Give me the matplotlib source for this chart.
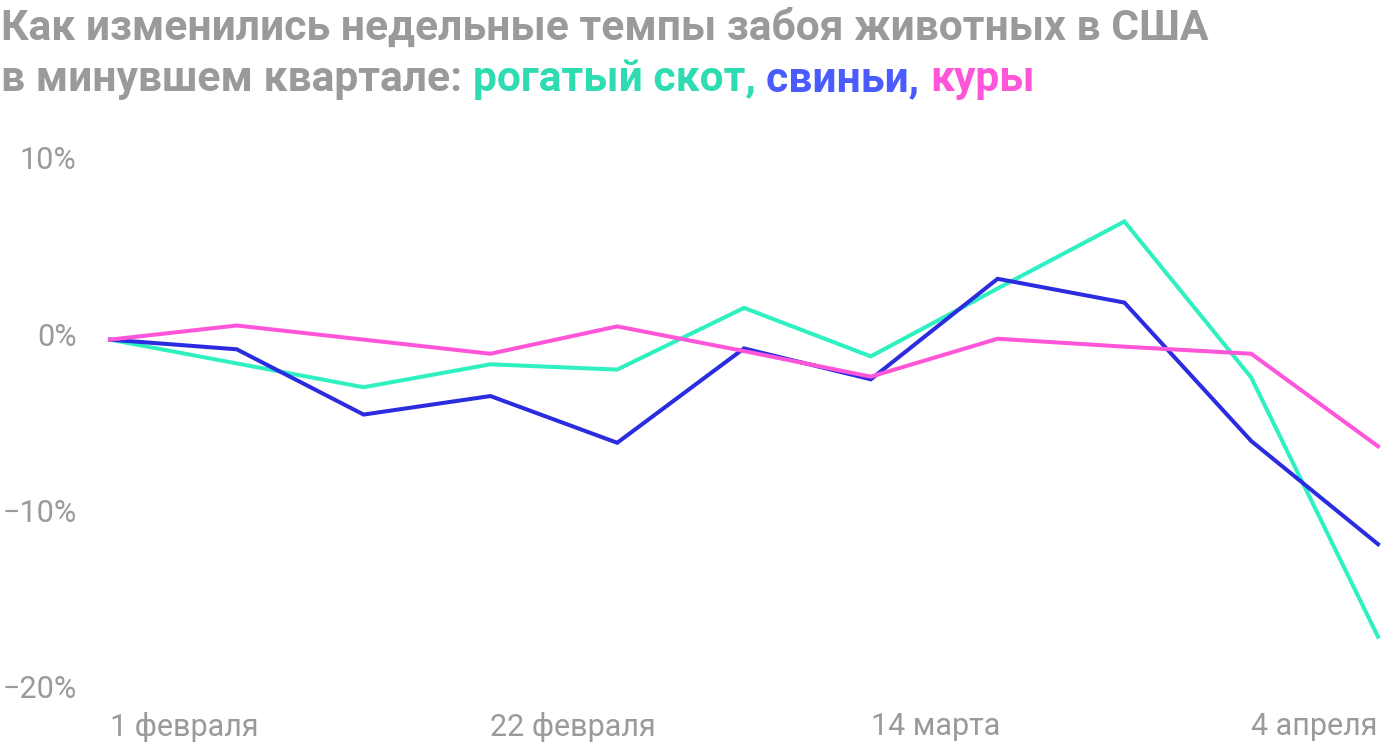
import matplotlib
matplotlib.use("Agg")
from matplotlib import pyplot as plt
from matplotlib.ticker import FuncFormatter

# недели с 1 февраля, изменение темпов забоя, %
weeks = list(range(11))
cattle = [-0.3, -1.65, -3.0, -1.7, -2.0, 1.5, -1.25, 2.6, 6.4, -2.45, -17.15]
pigs = [-0.3, -0.85, -4.55, -3.5, -6.15, -0.8, -2.55, 3.15, 1.8, -6.05, -11.9]
chickens = [-0.3, 0.5, -0.3, -1.1, 0.45, -0.95, -2.4, -0.25, -0.7, -1.1, -6.35]

tick_pos = [0, 3, 6, 9]
tick_labels = ['1 февраля', '22 февраля', '14 марта', '4 апреля']
y_ticks = [-20, -10, 0, 10]

c_cattle = '#2ef0c0'
c_pigs = '#2b2be0'
c_chickens = '#ff55d8'
c_gray = '#9a9a9a'

W, H = 1400, 744
fig = plt.figure(figsize=(W / 100, H / 100), dpi=100)
ax = fig.add_axes([110 / W, 1 - 687 / H, (1378 - 110) / W, (687 - 158) / H])

ax.plot(weeks, cattle, color=c_cattle, lw=2.9, clip_on=False, solid_joinstyle='miter')
ax.plot(weeks, pigs, color=c_pigs, lw=2.9, clip_on=False, solid_joinstyle='miter')
ax.plot(weeks, chickens, color=c_chickens, lw=2.9, clip_on=False, solid_joinstyle='miter')

ax.set_xlim(0, 10)
ax.set_ylim(-20, 10)
ax.set_yticks(y_ticks)
ax.yaxis.set_major_formatter(FuncFormatter(lambda v, p: f'{int(v)}%'.replace('-', '\u2212')))
ax.set_xticks(tick_pos)
ax.set_xticklabels(tick_labels, ha='left')
for s in ax.spines.values():
    s.set_visible(False)
ax.tick_params(axis='both', length=0, colors=c_gray, labelsize=22)
ax.tick_params(axis='y', pad=24)
ax.tick_params(axis='x', pad=18)
for lab in ax.get_xticklabels() + ax.get_yticklabels():
    lab.set_fontfamily('Roboto')

# заголовок из цветных кусков
renderer = fig.canvas.get_renderer()


def draw_line(x, y, pieces):
    for txt, col in pieces:
        t = fig.text(x, y, txt, color=col, fontsize=30.7, fontweight='bold',
                     fontfamily='Roboto', va='baseline', ha='left')
        bb = t.get_window_extent(renderer=renderer)
        x += bb.width / W


draw_line(1 / W, 1 - 40 / H, [('Как изменились недельные темпы забоя животных в США', c_gray)])
draw_line(1 / W, 1 - 91 / H, [('в минувшем квартале: ', c_gray),
                              ('рогатый скот, ', '#2fdcb2'),
                              ('свиньи, ', '#4a5cff'),
                              ('куры', '#ff55d8')])

fig.savefig('out.png', dpi=100)
